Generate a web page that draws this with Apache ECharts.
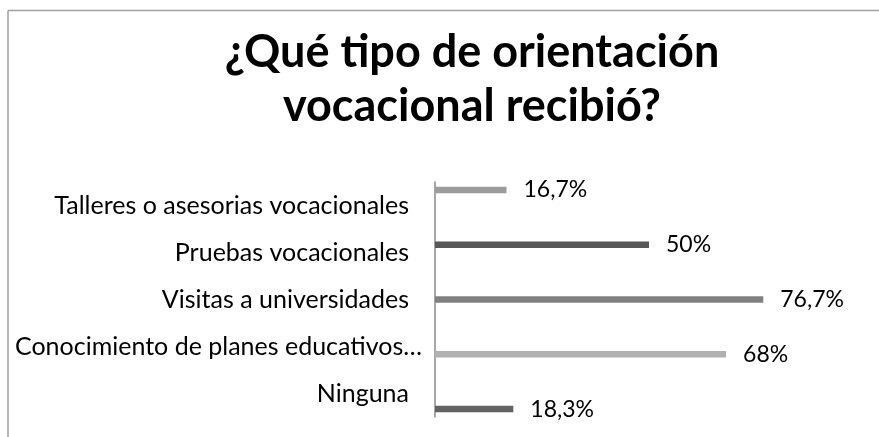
<!DOCTYPE html>
<html>
<head>
<meta charset="utf-8">
<script src="https://cdn.jsdelivr.net/npm/echarts@6/dist/echarts.min.js"></script>
<style>
html,body{margin:0;padding:0;background:#fff;}
#chart{width:879px;height:437px;}
</style>
</head>
<body>
<div id="chart"></div>
<script>
// Data (top to bottom)
const categories = [
  'Talleres o asesorias vocacionales',
  'Pruebas vocacionales',
  'Visitas a universidades',
  'Conocimiento de planes educativos…',
  'Ninguna'
];
const values = [16.7, 50, 76.7, 68, 18.3];
const barColors = ['#9c9c9c', '#575757', '#808080', '#b1b1b1', '#636363'];
const titleText = '¿Qué tipo de orientación\nvocacional recibió?';

const FONT = 'Lato';

const series = categories.map((c, i) => ({
  type: 'bar',
  name: c,
  data: categories.map((_, j) => (j === i ? values[i] : '-')),
  barWidth: 6.5,
  barGap: '20%',
  itemStyle: { color: barColors[i] },
  label: {
    show: true,
    position: 'right',
    distance: 17,
    fontFamily: FONT,
    fontSize: 23,
    color: '#000',
    formatter: p => String(p.value).replace('.', ',') + '%'
  },
  animation: false
}));

const chart = echarts.init(document.getElementById('chart'));
chart.setOption({
  animation: false,
  title: {
    text: titleText,
    left: 467,
    textAlign: 'center',
    top: 20,
    textStyle: { fontFamily: FONT, fontWeight: 'bold', fontSize: 45, lineHeight: 54, color: '#000' }
  },
  grid: { left: 435, right: 16, top: 182, bottom: 20, containLabel: false },
  xAxis: {
    type: 'value', min: 0, max: 100,
    show: false
  },
  yAxis: {
    type: 'category',
    data: categories,
    inverse: true,
    axisLine: { show: true, lineStyle: { color: '#8a8a8a', width: 1.5 } },
    axisTick: { show: false },
    axisLabel: {
      margin: 13, fontFamily: FONT, fontSize: 25, color: '#000',
      formatter: v => v.endsWith('…') ? '{c|' + v + '}' : '{n|' + v + '}',
      rich: {
        n: { fontFamily: FONT, fontSize: 25, color: '#000', padding: [0, 13, 0, 0] },
        c: { fontFamily: FONT, fontSize: 25, color: '#000' }
      }
    }
  },
  series: series,
  graphic: [
    { type: 'line', shape: { x1: 8, y1: 10.5, x2: 879, y2: 10.5 }, style: { stroke: '#a0a0a0', lineWidth: 1.5 } },
    { type: 'line', shape: { x1: 8, y1: 10.5, x2: 8, y2: 437 }, style: { stroke: '#a0a0a0', lineWidth: 1.5 } }
  ]
});
</script>
</body>
</html>
